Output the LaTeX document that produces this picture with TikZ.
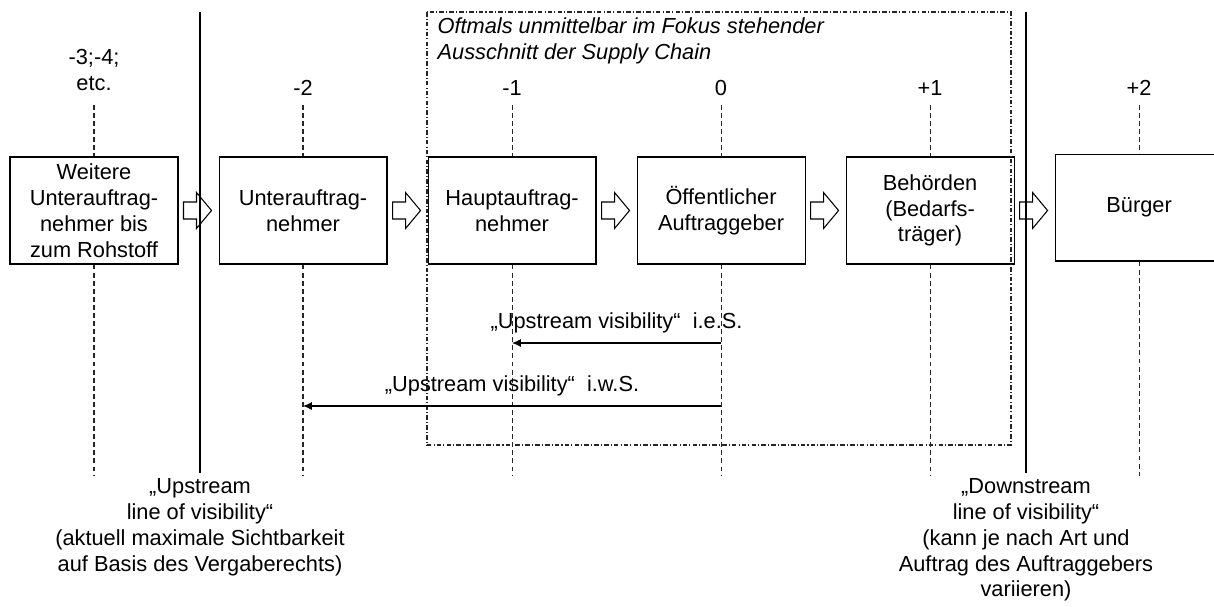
\documentclass[tikz,border=0pt]{standalone}
\usepackage{fontspec}
\setmainfont{Liberation Sans}
\usetikzlibrary{positioning, arrows.meta, calc}

\tikzset{
  stage/.style={draw, line width=0.6pt, minimum width=3.36cm, minimum height=2.14cm, align=center, inner sep=1pt},
  level/.style={anchor=base, inner sep=0pt, align=center},
  guide/.style={line width=0.6pt, black!85, dash pattern=on 2.8pt off 1.8pt},
  focus/.style={line width=0.6pt, black!85, dash pattern=on 2.6pt off 1.2pt on 0.6pt off 1.2pt},
  visline/.style={line width=0.9pt},
  reach/.style={line width=0.6pt, -{Latex[length=5pt,width=4.5pt]}},
  flow/.style={draw, line width=0.6pt},
  note/.style={anchor=north, align=center, inner sep=3pt}
}

% Blockpfeil hinter einer Stufe
\newcommand{\flowarrow}[1]{%
  \draw[flow, shift={($(#1.east)+(5,0)$)}]
    (0,-8.5) -- (13,-8.5) -- (13,-18) -- (28,0) -- (13,18) -- (13,8.5) -- (0,8.5) -- cycle;}

\begin{document}
\begin{tikzpicture}[x=0.02cm, y=-0.02cm, node distance=0.8cm,
    font=\fontsize{12.4pt}{14.7pt}\selectfont]
  \useasboundingbox (0,0) rectangle (1214,606);

  % Stufen der Supply Chain
  \node[stage] (b1) at (94,210.5) {Weitere\\Unterauftrag-\\nehmer bis\\zum Rohstoff};
  \node[stage, right=of b1] (b2) {Unterauftrag-\\nehmer};
  \node[stage, right=of b2] (b3) {Hauptauftrag-\\nehmer};
  \node[stage, right=of b3] (b4) {Öffentlicher\\Auftraggeber};
  \node[stage, right=of b4] (b5) {Behörden\\(Bedarfs-\\träger)};
  \node[stage, right=of b5, yshift=1.7pt] (b6) {Bürger};

  % Stufennummern
  \node[level] (l1) at (b1.north |- 0,90) {-3;-4;\\etc.};
  \node[level] (l2) at (b2.north |- 0,95) {-2};
  \node[level] (l3) at (b3.north |- 0,95) {-1};
  \node[level] (l4) at (b4.north |- 0,95) {0};
  \node[level] (l5) at (b5.north |- 0,95) {+1};
  \node[level] (l6) at (b6.north |- 0,95) {+2};

  % gestrichelte Stufenlinien
  \foreach \i in {1,...,6} {
    \coordinate (t\i) at (b\i.north |- 0,105);
    \coordinate (e\i) at (b\i.south |- 0,476);
    \draw[guide] (t\i) -- (b\i.north);
    \draw[guide] (b\i.south) -- (e\i);
  }

  % Blockpfeile
  \foreach \i in {1,...,5} {
    \flowarrow{b\i}
  }

  % Fokusbereich
  \draw[focus] (427,12) rectangle (1011,445);
  \node[anchor=north west, align=left, inner sep=3pt] (fokus) at (432,12)
    {\itshape Oftmals unmittelbar im Fokus stehender\\\itshape Ausschnitt der Supply Chain};

  % Lines of visibility
  \coordinate (uvTop) at (200,12);
  \coordinate (uvEnd) at (200,473);
  \coordinate (dvTop) at (1026,12);
  \coordinate (dvEnd) at (1026,473);
  \draw[visline] (uvTop) -- (uvEnd);
  \draw[visline] (dvTop) -- (dvEnd);
  \node[note] (uvText) at (uvEnd)
    {„Upstream\\line of visibility“\\(aktuell maximale Sichtbarkeit\\auf Basis des Vergaberechts)};
  \node[note] (dvText) at (dvEnd)
    {„Downstream\\line of visibility“\\(kann je nach Art und\\Auftrag des Auftraggebers\\variieren)};

  % Upstream visibility
  \coordinate (v0a) at (b4.south |- 0,343);
  \coordinate (v1) at (b3.south |- 0,343);
  \coordinate (v0b) at (b4.south |- 0,406);
  \coordinate (v2) at (b2.south |- 0,406);
  \draw[reach] (v0a) -- (v1) node[midway, above=2pt] {„Upstream visibility“\ \ i.e.S.};
  \draw[reach] (v0b) -- (v2) node[midway, above=2pt] {„Upstream visibility“\ \ i.w.S.};

\end{tikzpicture}
\end{document}
